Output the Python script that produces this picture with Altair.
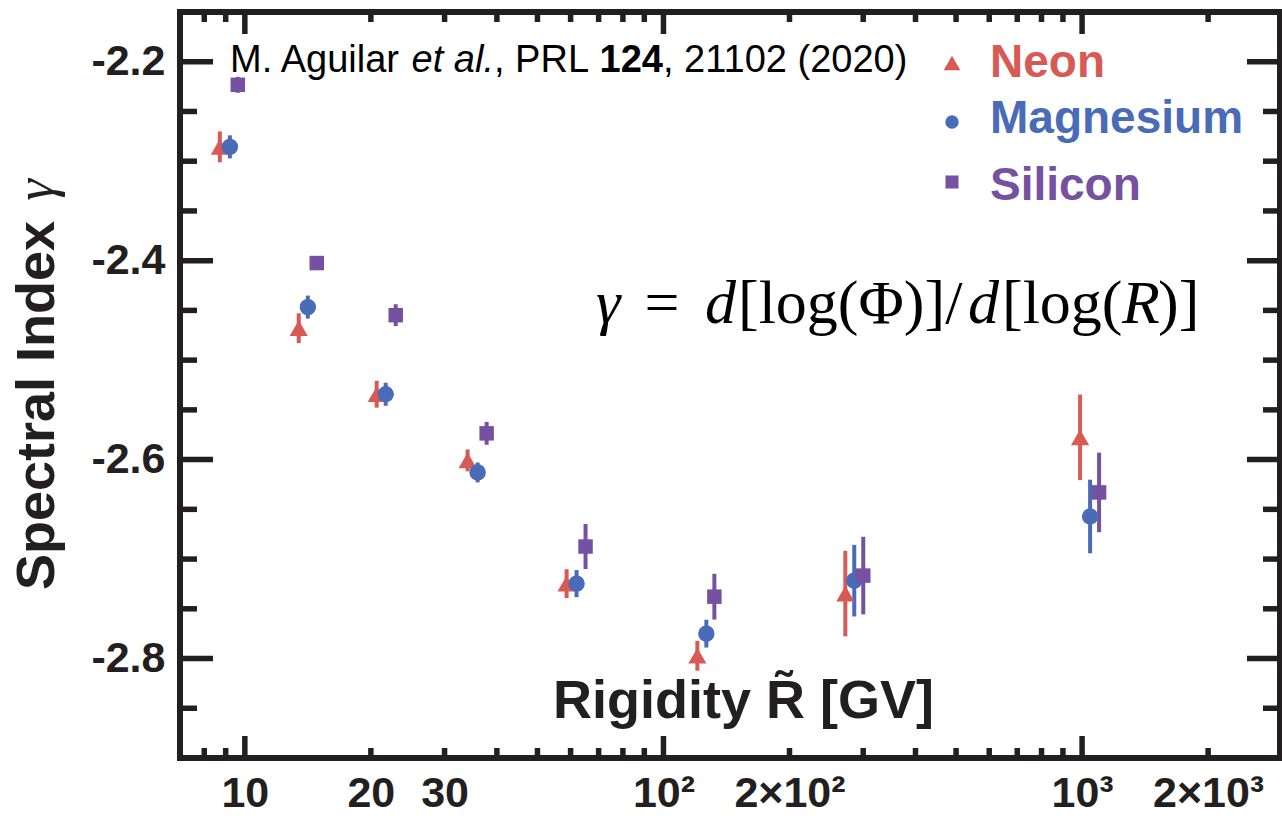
import altair as alt
import pandas as pd

# ---------------- data ----------------
series = ["Neon", "Magnesium", "Silicon"]
colors = ["#d85a55", "#4a6bb7", "#7651a2"]
shapes = ["triangle-up", "circle", "square"]

neon_R = [8.715, 13.45, 20.65, 34.05, 58.69, 120.5, 271.9, 989]
neon_g = [-2.2856, -2.4679, -2.5343, -2.6008, -2.7247, -2.7972, -2.7347, -2.5776]
neon_err = [0.0155, 0.015, 0.0135, 0.011, 0.0145, 0.015, 0.043, 0.043]

mg_R = [9.21, 14.14, 21.70, 35.98, 62.0, 126.6, 285.6, 1045]
mg_g = [-2.2856, -2.4467, -2.5343, -2.6129, -2.7247, -2.775, -2.7217, -2.6572]
mg_err = [0.0116, 0.0116, 0.0116, 0.010, 0.0136, 0.014, 0.036, 0.037]

si_R = [9.62, 14.85, 22.93, 37.81, 65.14, 132.3, 300.1, 1098]
si_g = [-2.2232, -2.4024, -2.4548, -2.5736, -2.6874, -2.7378, -2.7166, -2.633]
si_err = [0.008, 0.006, 0.011, 0.0115, 0.0226, 0.023, 0.039, 0.040]

x_major = [10, 100, 1000]
x_minor = [8, 9, 20, 30, 40, 50, 60, 70, 80, 90,
           200, 300, 400, 500, 600, 700, 800, 900, 2000]
x_label_values = [10, 20, 30, 100, 200, 1000, 2000]
x_label_texts = ["10", "20", "30", "10²", "2×10²", "10³", "2×10³"]

y_major = [-2.2, -2.4, -2.6, -2.8]
y_minor = [-2.25, -2.3, -2.35, -2.45, -2.5, -2.55, -2.65, -2.7, -2.75, -2.85]

# ---------------- build tables ----------------
rows = []
for name, R, g, e in [("Neon", neon_R, neon_g, neon_err),
                      ("Magnesium", mg_R, mg_g, mg_err),
                      ("Silicon", si_R, si_g, si_err)]:
    for r, v, d in zip(R, g, e):
        rows.append({"series": name, "R": r, "gamma": v, "lo": v - d, "hi": v + d})
df = pd.DataFrame(rows)

W, H = 1100, 746
FRAME = "#231f20"
SANS = "Liberation Sans"
SERIF = "Liberation Serif"
sizes = [330, 210, 200]

xscale = alt.Scale(type="log", domain=[7.0, 2970], nice=False)
yscale = alt.Scale(domain=[-2.9, -2.15], nice=False, zero=False)

label_expr = " : ".join(
    f"datum.value == {v} ? '{t}'" for v, t in zip(x_label_values, x_label_texts)
) + " : ''"

x_axis = alt.Axis(
    values=x_label_values, labelExpr=label_expr, ticks=False, tickSize=0,
    domain=False, grid=False, labelFont=SANS, labelFontSize=43,
    labelFontWeight="bold", labelColor=FRAME, labelPadding=14,
    labelFlush=False, labelOverlap=False, orient="bottom",
    title="Rigidity R̃ [GV]", titleFont=SANS, titleFontSize=54,
    titleFontWeight="bold", titleColor=FRAME, titleX=563, titleY=-41,
    titleBaseline="alphabetic", titleAlign="center",
)
y_axis = alt.Axis(
    values=y_major, labelExpr="replace(format(datum.value, '.1f'), '\u2212', '-')",
    ticks=False, tickSize=0, domain=False, grid=False, orient="left",
    labelFont=SANS, labelFontSize=43, labelFontWeight="bold", labelColor=FRAME,
    labelPadding=15,
    title="Spectral Index", titleFont=SANS, titleFontSize=54,
    titleFontWeight="bold", titleColor=FRAME, titleAngle=270,
    titleX=-127, titleY=393, titleBaseline="alphabetic", titleAlign="center",
)

# ---------------- tick marks (inside the frame) ----------------
def x_ticks(vals, length):
    d = pd.DataFrame({"v": vals})
    enc_x = alt.X("v:Q", scale=xscale, axis=x_axis)
    b = alt.Chart(d).mark_rule(color=FRAME, strokeWidth=5.5).encode(
        x=enc_x, y=alt.value(H), y2=alt.value(H - length))
    t = alt.Chart(d).mark_rule(color=FRAME, strokeWidth=5.5).encode(
        x=enc_x, y=alt.value(0), y2=alt.value(length))
    return [b, t]


def y_ticks(vals, length):
    d = pd.DataFrame({"v": vals})
    enc_y = alt.Y("v:Q", scale=yscale, axis=y_axis)
    l = alt.Chart(d).mark_rule(color=FRAME, strokeWidth=5.5).encode(
        y=enc_y, x=alt.value(0), x2=alt.value(length))
    r = alt.Chart(d).mark_rule(color=FRAME, strokeWidth=5.5).encode(
        y=enc_y, x=alt.value(W), x2=alt.value(W - length))
    return [l, r]


tick_layers = (x_ticks(x_major, 22) + x_ticks(x_minor, 10)
               + y_ticks(y_major, 33) + y_ticks(y_minor, 17))

# ---------------- data layers ----------------
errbars = alt.Chart(df).mark_rule(strokeWidth=4).encode(
    x=alt.X("R:Q", scale=xscale, axis=x_axis),
    y=alt.Y("lo:Q", scale=yscale, axis=y_axis),
    y2="hi:Q",
    stroke=alt.Stroke("series:N", scale=alt.Scale(domain=series, range=colors), legend=None),
)

points = alt.Chart(df).mark_point(filled=True, opacity=1, strokeWidth=0).encode(
    x=alt.X("R:Q", scale=xscale, axis=x_axis),
    y=alt.Y("gamma:Q", scale=yscale, axis=y_axis),
    color=alt.Color("series:N", scale=alt.Scale(domain=series, range=colors), legend=None),
    shape=alt.Shape("series:N", scale=alt.Scale(domain=series, range=shapes), legend=None),
    size=alt.Size("series:N", scale=alt.Scale(domain=series, range=sizes), legend=None),
)

# ---------------- annotations ----------------
one = pd.DataFrame({"k": [0]})


def txt(s, x, y, font=SANS, size=38, style="normal", weight="normal",
        align="left", angle=0, color="#000000"):
    return alt.Chart(one).mark_text(
        text=s, font=font, fontSize=size, fontStyle=style, fontWeight=weight,
        align=align, baseline="alphabetic", angle=angle, color=color,
    ).encode(x=alt.value(x), y=alt.value(y))


# legend (symbol + coloured label for each series)
legend_layers = []
for name, col, shp, sz, sy, ty in zip(series, colors, shapes, sizes,
                                       [51, 110, 170], [65, 121, 188]):
    legend_layers.append(
        alt.Chart(one).mark_point(filled=True, opacity=1, strokeWidth=0,
                                  shape=shp, size=sz * 0.85, color=col)
        .encode(x=alt.value(772), y=alt.value(sy)))
    legend_layers.append(txt(name, 810, ty, size=46, weight="bold", color=col))

# citation line, widths from Arial/Liberation Sans metrics
arial = {"M": .833, ".": .278, " ": .278, "A": .667, "g": .556, "u": .556,
         "i": .222, "l": .222, "a": .556, "r": .333, "e": .556, "t": .278,
         ",": .278, "P": .667, "R": .722, "L": .556, "(": .333, ")": .333}
cite = [("M. Aguilar ", "normal", "normal"), ("et al.", "italic", "normal"),
        (", PRL ", "normal", "normal"), ("124", "normal", "bold"),
        (", 21102 (2020)", "normal", "normal")]
cite_layers = []
cx, fs = 50.0, 38
for s, st, wt in cite:
    cite_layers.append(txt(s, cx, 60, size=fs, style=st, weight=wt))
    cx += sum(arial.get(ch, .556) for ch in s) * fs

formula = [("γ", 416, "italic", "left"), ("=", 482, "normal", "center"),
           ("d", 525, "italic", "left"), ("[log(Φ)]/", 558, "normal", "left"),
           ("d", 788, "italic", "left"), ("[log(", 822, "normal", "left"),
           ("R", 942, "italic", "left"), (")]", 978, "normal", "left")]
formula_layers = [txt(s, x, 311, font=SERIF, size=62, style=st, align=al)
                  for s, x, st, al in formula]

gamma_title = txt("γ", -127, 178, font=SERIF, size=55, style="italic",
                  align="center", angle=270, color=FRAME)

chart = alt.layer(
    *tick_layers, errbars, points, *legend_layers, *cite_layers,
    *formula_layers, gamma_title
).properties(
    width=W, height=H,
    autosize=alt.AutoSizeParams(type="none"),
    padding={"left": 180, "top": 12, "right": 2, "bottom": 65},
    background="white",
).configure_view(
    stroke=FRAME, strokeWidth=6,
)

chart.save("out.html", embed_options={"renderer": "svg", "actions": False})
